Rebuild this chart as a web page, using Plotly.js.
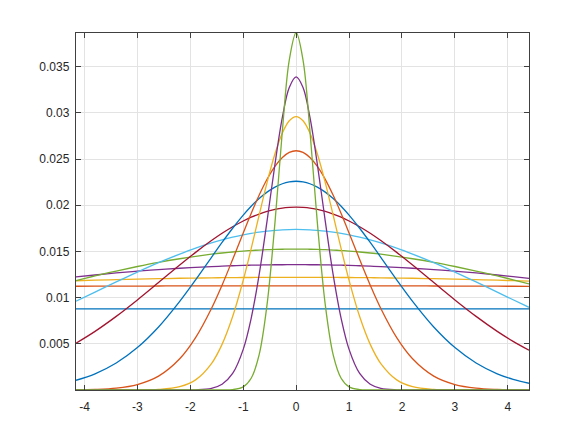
<!DOCTYPE html>
<html>
<head>
<meta charset="utf-8">
<script src="https://cdn.plot.ly/plotly-3.0.1.min.js"></script>
<style>
  html, body { margin: 0; padding: 0; background: #fff; }
  #chart { width: 582px; height: 437px; }
</style>
</head>
<body>
<div id="chart"></div>
<script>
// sample positions shared by all curves
const xs = [-4.16, -3.8, -3.4, -3.0, -2.6, -2.2, -1.9, -1.6, -1.4, -1.2, -1.0, -0.85, -0.7, -0.55, -0.4, -0.26, -0.13, 0,
            0.13, 0.26, 0.4, 0.55, 0.7, 0.85, 1.0, 1.2, 1.4, 1.6, 1.9, 2.2, 2.6, 3.0, 3.4, 3.8, 4.1, 4.4];

// curves, widest (flat) first, narrowest last
const c1 = [0.00878, 0.00878, 0.00878, 0.00878, 0.00878, 0.00878, 0.00878, 0.00878, 0.00878, 0.00878, 0.00878, 0.00878, 0.00878, 0.00878, 0.00878, 0.00878, 0.00878, 0.00878,
            0.00878, 0.00878, 0.00878, 0.00878, 0.00878, 0.00878, 0.00878, 0.00878, 0.00878, 0.00878, 0.00878, 0.00878, 0.00878, 0.00878, 0.00878, 0.00878, 0.00878, 0.00878];
const c2 = [0.01123, 0.01124, 0.01125, 0.01125, 0.01126, 0.01127, 0.01127, 0.01127, 0.01127, 0.01128, 0.01128, 0.01128, 0.01128, 0.01128, 0.01128, 0.01128, 0.01128, 0.01128,
            0.01128, 0.01128, 0.01128, 0.01128, 0.01128, 0.01128, 0.01128, 0.01128, 0.01127, 0.01127, 0.01127, 0.01127, 0.01126, 0.01125, 0.01125, 0.01124, 0.01123, 0.01122];
const c3 = [0.01183, 0.01189, 0.01195, 0.01201, 0.01205, 0.0121, 0.01212, 0.01214, 0.01216, 0.01217, 0.01218, 0.01218, 0.01219, 0.0122, 0.0122, 0.0122, 0.0122, 0.0122,
            0.0122, 0.0122, 0.0122, 0.0122, 0.01219, 0.01218, 0.01218, 0.01217, 0.01216, 0.01214, 0.01212, 0.0121, 0.01205, 0.01201, 0.01195, 0.01189, 0.01184, 0.01179];
const c4 = [0.01224, 0.01245, 0.01267, 0.01286, 0.01303, 0.01318, 0.01328, 0.01336, 0.01341, 0.01345, 0.01349, 0.01351, 0.01353, 0.01355, 0.01356, 0.01356, 0.01357, 0.01357,
            0.01357, 0.01356, 0.01356, 0.01355, 0.01353, 0.01351, 0.01349, 0.01345, 0.01341, 0.01336, 0.01328, 0.01318, 0.01303, 0.01286, 0.01267, 0.01245, 0.01228, 0.01209];
const c5 = [0.01184, 0.01235, 0.01288, 0.01337, 0.01382, 0.01421, 0.01447, 0.0147, 0.01483, 0.01494, 0.01504, 0.0151, 0.01515, 0.01519, 0.01522, 0.01524, 0.01526, 0.01526,
            0.01526, 0.01524, 0.01522, 0.01519, 0.01515, 0.0151, 0.01504, 0.01494, 0.01483, 0.0147, 0.01447, 0.01421, 0.01382, 0.01337, 0.01288, 0.01235, 0.01193, 0.01149];
const c6 = [0.00961, 0.0106, 0.0117, 0.01277, 0.01379, 0.01472, 0.01536, 0.01592, 0.01625, 0.01654, 0.01679, 0.01695, 0.01709, 0.0172, 0.01728, 0.01734, 0.01737, 0.01738,
            0.01737, 0.01734, 0.01728, 0.0172, 0.01709, 0.01695, 0.01679, 0.01654, 0.01625, 0.01592, 0.01536, 0.01472, 0.01379, 0.01277, 0.0117, 0.0106, 0.00977, 0.00895];
const c7 = [0.00507, 0.00635, 0.00797, 0.00975, 0.01163, 0.01353, 0.0149, 0.01618, 0.01697, 0.01768, 0.0183, 0.01871, 0.01905, 0.01933, 0.01955, 0.0197, 0.01977, 0.0198,
            0.01977, 0.0197, 0.01955, 0.01933, 0.01905, 0.01871, 0.0183, 0.01768, 0.01697, 0.01618, 0.0149, 0.01353, 0.01163, 0.00975, 0.00797, 0.00635, 0.00527, 0.00431];
const c8 = [0.00105, 0.00175, 0.00292, 0.00459, 0.00682, 0.00959, 0.01192, 0.01436, 0.01597, 0.01751, 0.01893, 0.01989, 0.02072, 0.02142, 0.02197, 0.02233, 0.02253, 0.0226,
            0.02253, 0.02233, 0.02197, 0.02142, 0.02072, 0.01989, 0.01893, 0.01751, 0.01597, 0.01436, 0.01192, 0.00959, 0.00682, 0.00459, 0.00292, 0.00175, 0.00115, 0.00073];
const c9 = [0.00002, 0.00006, 0.0002, 0.00059, 0.0015, 0.00338, 0.00567, 0.00882, 0.01135, 0.01413, 0.017, 0.01911, 0.02108, 0.02281, 0.02421, 0.02517, 0.02572, 0.0259,
            0.02572, 0.02517, 0.02421, 0.02281, 0.02108, 0.01911, 0.017, 0.01413, 0.01135, 0.00882, 0.00567, 0.00338, 0.0015, 0.00059, 0.0002, 0.00006, 0.00002, 0.00001];
const c10 = [0, 0, 0, 0.00001, 0.00006, 0.00036, 0.0011, 0.00286, 0.00494, 0.00795, 0.01188, 0.0153, 0.01892, 0.02246, 0.02558, 0.02783, 0.02915, 0.0296,
             0.02915, 0.02783, 0.02558, 0.02246, 0.01892, 0.0153, 0.01188, 0.00795, 0.00494, 0.00286, 0.0011, 0.00036, 0.00006, 0.00001, 0, 0, 0, 0];
const c11 = [0, 0, 0, 0, 0, 0.000002, 0.00002, 0.00018, 0.00062, 0.00179, 0.0044, 0.00776, 0.01247, 0.01829, 0.02446, 0.02953, 0.03275, 0.0339,
             0.03275, 0.02953, 0.02446, 0.01829, 0.01247, 0.00776, 0.0044, 0.00179, 0.00062, 0.00018, 0.00002, 0.000002, 0, 0, 0, 0, 0, 0];
const c12 = [0, 0, 0, 0, 0, 0, 0, 0, 0.000004, 0.00004, 0.00034, 0.00127, 0.0038, 0.00924, 0.01815, 0.0281, 0.03572, 0.0387,
             0.03572, 0.0281, 0.01815, 0.00924, 0.0038, 0.00127, 0.00034, 0.00004, 0.000004, 0, 0, 0, 0, 0, 0, 0, 0, 0];

const curves = [c1, c2, c3, c4, c5, c6, c7, c8, c9, c10, c11, c12];
const colors = ['#0072BD', '#D95319', '#EDB120', '#7E2F8E', '#77AC30', '#4DBEEE', '#A2142F'];

const xTicks = [-4, -3, -2, -1, 0, 1, 2, 3, 4];
const xTickText = ['-4', '-3', '-2', '-1', '0', '1', '2', '3', '4'];
const yTicks = [0.005, 0.01, 0.015, 0.02, 0.025, 0.03, 0.035];
const yTickText = ['0.005', '0.01', '0.015', '0.02', '0.025', '0.03', '0.035'];

const traces = curves.map((ys, i) => ({
    x: xs,
    y: ys,
    type: 'scatter',
    mode: 'lines',
    line: { color: colors[i % colors.length], width: 1.3, shape: 'spline', smoothing: 1 },
    hoverinfo: 'skip',
    showlegend: false,
}));

const axisStyle = {
    showline: true,
    linecolor: '#404040',
    linewidth: 1.2,
    mirror: 'ticks',
    ticks: 'inside',
    ticklen: 5,
    tickcolor: '#404040',
    showgrid: true,
    gridcolor: '#e3e3e3',
    gridwidth: 1,
    zeroline: false,
    tickfont: { family: 'Liberation Sans, Arial, sans-serif', size: 12, color: '#262626' },
};

const layout = {
    width: 582,
    height: 437,
    margin: { l: 76, r: 53, t: 33, b: 47 },
    paper_bgcolor: '#ffffff',
    plot_bgcolor: '#ffffff',
    xaxis: Object.assign({}, axisStyle, {
        range: [-4.16, 4.4],
        tickmode: 'array',
        tickvals: xTicks,
        ticktext: xTickText,
        ticklabelstandoff: 5,
    }),
    yaxis: Object.assign({}, axisStyle, {
        range: [0, 0.03865],
        tickmode: 'array',
        tickvals: yTicks,
        ticktext: yTickText,
        ticklabelstandoff: 3,
    }),
};

Plotly.newPlot('chart', traces, layout, { staticPlot: true, displayModeBar: false });
</script>
</body>
</html>
